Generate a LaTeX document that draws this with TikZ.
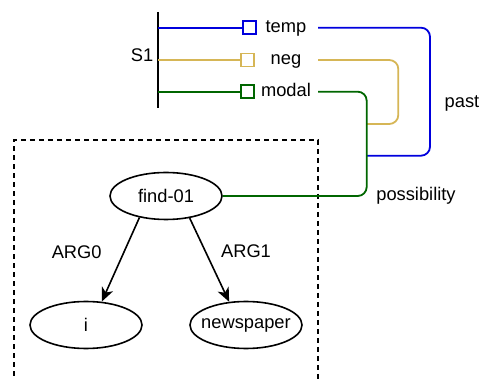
\documentclass[tikz,border=0pt]{standalone}
\usepackage{fontspec}
\setmainfont{Liberation Sans}
\usetikzlibrary{arrows.meta,shapes.geometric}
\definecolor{cblue}{HTML}{0000DD}
\definecolor{ctan}{HTML}{D6B656}
\definecolor{cgreen}{HTML}{006600}
\begin{document}
\begin{tikzpicture}[x=1pt,y=-1pt,
  every node/.style={font=\fontsize{18.3}{21}\selectfont, inner sep=0pt},
  txt/.style={text height=12.5pt, text depth=3pt},
  sq/.style={draw, line width=1.8pt, minimum size=13pt, fill=white},
  ell/.style={draw, ellipse, line width=1.6pt, minimum width=112pt, minimum height=47pt},
  conn/.style={line width=1.8pt, rounded corners=9pt},
  arr/.style={line width=1.6pt, -{Stealth[length=14pt,width=12pt,inset=4pt]}}
]
\useasboundingbox (0,0) rectangle (480,379);
% dashed box
\draw[line width=1.5pt, dash pattern=on 5pt off 4pt] (14,385) -- (14,140) -- (318,140) -- (318,385);
% S1 bar
\coordinate (bartop) at (158,12);
\coordinate (barbot) at (158,108);
\draw[line width=2.2pt] (bartop) -- (barbot);
\node[txt] (s1) at (142,57) {S1};
\coordinate (b1) at (158,27.7);
\coordinate (b2) at (158,60);
\coordinate (b3) at (158,91.7);
% squares
\node[sq, draw=cblue] (qtemp) at (249.5,27.7) {};
\node[sq, draw=ctan] (qneg) at (247.7,60) {};
\node[sq, draw=cgreen] (qmodal) at (247.7,91.7) {};
\draw[cblue, line width=1.8pt] (b1) -- (qtemp.west);
\draw[ctan, line width=1.8pt] (b2) -- (qneg.west);
\draw[cgreen, line width=1.8pt] (b3) -- (qmodal.west);
% labels
\node[txt, minimum width=64pt] (ltemp) at (286,27.7) {temp};
\node[txt, minimum width=64pt] (lneg) at (286,60) {neg};
\node[txt, minimum width=64pt] (lmodal) at (286,91.7) {modal};
% ellipses
\node[ell] (find) at (166,196) {find-01};
\node[ell] (i) at (86,325) {i};
\node[ell] (news) at (246,325) {\makebox[60pt]{newspaper}};
% connectors
\coordinate (jtan) at (366.7,124);
\coordinate (jblue) at (366.7,155.7);
\draw[conn, cblue] (ltemp.east) -- (430,27.7) -- (430,155.7) -- (jblue);
\draw[conn, ctan] (lneg.east) -- (398.3,60) -- (398.3,124) -- (jtan);
\draw[conn, cgreen] (lmodal.east) -- (366.7,91.7) -- (366.7,196) -- (find.east);
\node[txt] (past) at (462,103) {past};
\node[txt] (poss) at (416,196) {possibility};
% arrows
\draw[arr] (find.219) -- (i.56);
\draw[arr] (find.317) -- (news.126);
\node[txt] (arg0) at (76.7,254) {ARG0};
\node[txt] (arg1) at (246,253) {ARG1};
\end{tikzpicture}
\end{document}
